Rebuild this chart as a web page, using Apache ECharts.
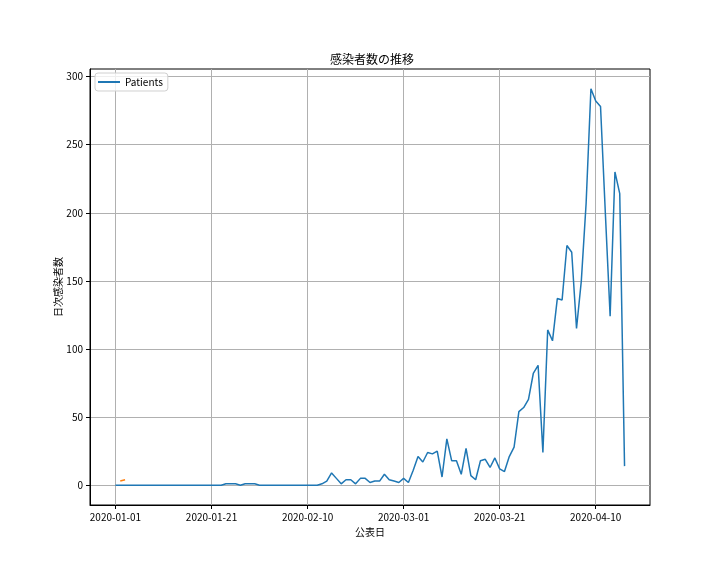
<!DOCTYPE html>
<html><head><meta charset="utf-8">
<script src="https://cdn.jsdelivr.net/npm/echarts@6/dist/echarts.min.js"></script>
<style>html,body{margin:0;padding:0;background:#fff}#c{width:720px;height:576px}</style>
</head><body><div id="c"></div>
<script>
// ---- data ----
const startDate = '2020-01-01';
const patients = [
  0,0,0,0,0,0,0,0,0,0, 0,0,0,0,0,0,0,0,0,0, 0,0,0,1,1,1,0,1,1,1,
  0,0,0,0,0,0,0,0,0,0, 0,0,0,1,3,9,5,1,4,4, 1,5,5,2,3,3,8,4,3,2,
  5,2,11,21,17,24,23,25,6,34, 18,18,8,27,7,4,18,19,13,20, 12,10,21,28,54,57,63,82,88,24,
  114,106,137,136,176,171,115,150,207,291, 282,278,200,124,230,214,14
];
const otherDates = ['2020-01-02', '2020-01-03'];
const otherValues = [3, 4];
const xTickLabels = ['2020-01-01','2020-01-21','2020-02-10','2020-03-01','2020-03-21','2020-04-10'];
const yTicks = [0, 50, 100, 150, 200, 250, 300];

// ---- helpers ----
const DAY = 86400000;
function toTs(s) { return Date.UTC(+s.slice(0, 4), +s.slice(5, 7) - 1, +s.slice(8, 10)); }
function pad2(n) { return (n < 10 ? '0' : '') + n; }
function fmt(ts) { const d = new Date(Math.round(ts)); return d.getUTCFullYear() + '-' + pad2(d.getUTCMonth() + 1) + '-' + pad2(d.getUTCDate()); }
const t0 = toTs(startDate);
const dates = patients.map((_, i) => t0 + i * DAY);
const xSpan = dates[dates.length - 1] - dates[0];
const xMin = dates[0] - 0.05 * xSpan, xMax = dates[dates.length - 1] + 0.05 * xSpan;
const allVals = patients.concat(otherValues);
const yLo = Math.min.apply(null, allVals), yHi = Math.max.apply(null, allVals);
const yMin = yLo - 0.05 * (yHi - yLo), yMax = yHi + 0.05 * (yHi - yLo);
const xTickVals = xTickLabels.map(toTs);

const FONT = '"Noto Sans CJK JP", "DejaVu Sans", sans-serif';
const chart = echarts.init(document.getElementById('c'), null, { renderer: 'canvas' });
chart.setOption({
  animation: false,
  backgroundColor: '#fff',
  textStyle: { fontFamily: FONT },
  title: {
    text: '感染者数の推移', left: 325, top: 48,
    textStyle: { fontFamily: FONT, fontSize: 12, fontWeight: 'normal', color: '#000' }
  },
  legend: {
    data: ['Patients'], left: 95, top: 73, orient: 'vertical',
    backgroundColor: 'rgba(255,255,255,0.8)', borderColor: '#d0d0d0', borderWidth: 1, borderRadius: 3,
    padding: [4, 5, 4, 3], itemWidth: 22, itemHeight: 2, icon: 'rect', itemGap: 5,
    textStyle: { fontFamily: FONT, fontSize: 10, color: '#000' }
  },
  grid: { left: 90, right: 70, top: 69, bottom: 71, show: true, borderColor: '#000', borderWidth: 1, containLabel: false },
  xAxis: {
    type: 'value', min: xMin, max: xMax,
    name: '公表日', nameLocation: 'middle', nameGap: 22, nameMoveOverlap: false,
    nameTextStyle: { fontFamily: FONT, fontSize: 10, color: '#000' },
    axisLine: { show: true, onZero: false, lineStyle: { color: '#000', width: 1 } },
    axisTick: { show: true, inside: false, length: 4, customValues: xTickVals, lineStyle: { color: '#000' } },
    axisLabel: { customValues: xTickVals, formatter: v => fmt(v), margin: 7, fontFamily: FONT, fontSize: 10, color: '#000', hideOverlap: false },
    splitLine: { show: true, customValues: xTickVals, lineStyle: { color: '#b0b0b0', width: 1 } }
  },
  yAxis: {
    type: 'value', min: yMin, max: yMax,
    name: '日次感染者数', nameLocation: 'middle', nameGap: 27, nameRotate: 90, nameMoveOverlap: false,
    nameTextStyle: { fontFamily: FONT, fontSize: 10, color: '#000' },
    axisLine: { show: true, lineStyle: { color: '#000', width: 1 } },
    axisTick: { show: true, inside: false, length: 4, customValues: yTicks, lineStyle: { color: '#000' } },
    axisLabel: { customValues: yTicks, margin: 7, fontFamily: FONT, fontSize: 10, color: '#000' },
    splitLine: { show: true, customValues: yTicks, lineStyle: { color: '#b0b0b0', width: 1 } }
  },
  series: [
    {
      name: 'Patients', type: 'line', data: dates.map((d, i) => [d, patients[i]]),
      showSymbol: false, symbol: 'none', color: '#1f77b4',
      lineStyle: { color: '#1f77b4', width: 1.5 }, z: 3
    },
    {
      name: 'other', type: 'line', data: otherDates.map((d, i) => [toTs(d), otherValues[i]]),
      showSymbol: false, symbol: 'none', color: '#ff7f0e',
      lineStyle: { color: '#ff7f0e', width: 1.5 }, z: 3
    }
  ]
});
</script>
</body></html>
